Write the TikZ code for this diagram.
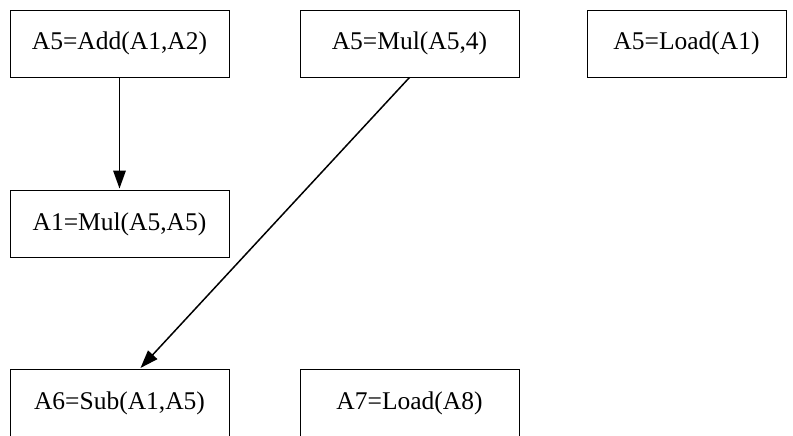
\documentclass[tikz,border=0pt]{standalone}
\usepackage{fontspec}
\setmainfont{Liberation Serif}
\usetikzlibrary{positioning,arrows.meta}

\begin{document}
\begin{tikzpicture}[
    x=1pt, y=-1pt,
    op/.style={draw, rectangle, line width=0.9pt, minimum width=219pt, minimum height=67pt, inner sep=0pt, font=\fontsize{25.5}{30}\selectfont},
    arrow/.style={-{Triangle[length=18pt, width=12.5pt]}, line width=1.5pt, shorten >=1.5pt}
]
    \useasboundingbox (0,0) rectangle (793,436);

    % Top row
    \node[op] (add) at (119.5, 43.5) {A5=Add(A1,A2)};
    \node[op] (mul) at (409.5, 43.5) {A5=Mul(A5,4)};
    \node[op, minimum width=199pt] (load1) at (686.5, 43.5) {A5=Load(A1)};

    % Middle row
    \node[op] (mulsq) at (119.5, 224) {A1=Mul(A5,A5)};

    % Bottom row (runs off the lower edge)
    \node[op] (sub) at (119.5, 403) {A6=Sub(A1,A5)};
    \node[op] (load8) at (409.5, 403) {A7=Load(A8)};

    \draw[arrow] (add) -- (mulsq);
    \draw[arrow] (mul.south) -- ([xshift=20pt]sub.north);

\end{tikzpicture}
\end{document}
